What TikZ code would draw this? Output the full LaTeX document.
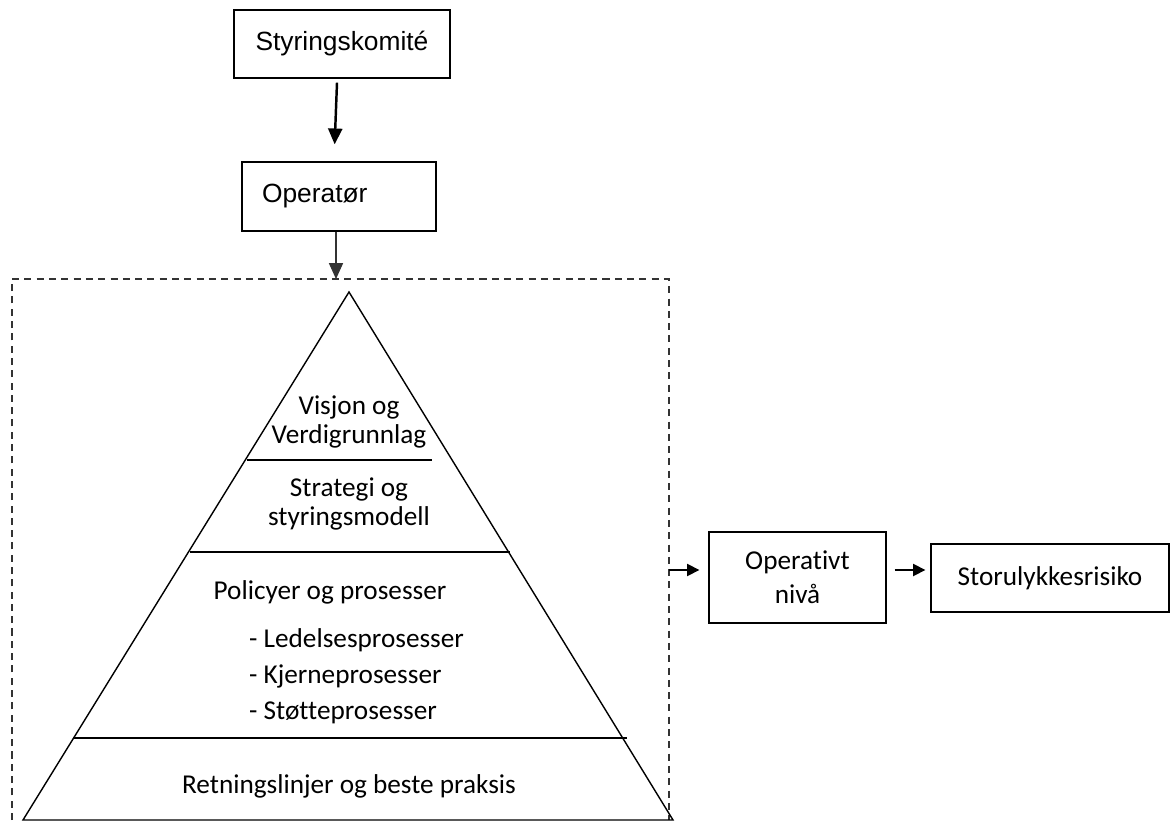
\documentclass[tikz,border=0pt]{standalone}
\usepackage{fontspec}
\setmainfont{Carlito}[Ligatures=NoCommon]
\newfontfamily\arialfont{Liberation Sans}
\usetikzlibrary{arrows.meta, positioning}

\begin{document}
\begin{tikzpicture}[x=0.02cm, y=-0.02cm,
  boks/.style={draw, line width=0.8pt, inner sep=0pt},
  pil/.style={-{Triangle[length=9pt, width=8pt]}, line width=1pt},
  litenpil/.style={-{Triangle[length=7pt, width=7pt]}, line width=0.9pt},
  pyrtekst/.style={font=\fontsize{15.5}{16.5}\selectfont, align=center}]
\useasboundingbox (0,0) rectangle (1171,821);

% Top-level boxes
\node[boks, minimum width=4.32cm, minimum height=1.36cm, font=\arialfont\fontsize{15}{18}\selectfont]
  (styring) at (342,44) {Styringskomité};
\node[boks, minimum width=3.88cm, minimum height=1.38cm, font=\arialfont\fontsize{15}{18}\selectfont,
  text width=3.08cm, inner xsep=0.4cm, align=left]
  (operator) at (339,196.5) {Operatør\\[9pt]};

% Dashed frame around the pyramid
\draw[black!80, line width=0.8pt, dash pattern=on 4pt off 3pt]
  (12,820) -- (12,279) -- (669,279) -- (669,820);
\coordinate (rammetopp) at (336,279);
\coordinate (rammehoyre) at (669,570);

\draw[pil, line width=1.4pt, shorten >=0.34cm]
  ([xshift=-0.1cm, yshift=-0.08cm]styring.south) -- ([xshift=-0.1cm]operator.north);
\draw[pil, line width=0.6pt, black!80] (operator.south -| rammetopp) -- (rammetopp);

% Pyramid
\draw[line width=0.8pt] (349,292) -- (23,820) -- (673,820) -- cycle;
\draw[line width=0.8pt] (247,460) -- (432,460);
\draw[line width=0.8pt] (190,552) -- (510,552);
\draw[line width=0.8pt] (73,738) -- (627,738);

\node[pyrtekst] (visjon) at (349,422) {Visjon og\\Verdigrunnlag};
\node[pyrtekst] (strategi) at (349,504) {Strategi og\\styringsmodell};
\node[pyrtekst] (policy) at (330,592) {Policyer og prosesser};
\node[pyrtekst, anchor=west, align=left, font=\fontsize{15.5}{20.5}\selectfont]
  (liste) at (243,676) {- Ledelsesprosesser\\- Kjerneprosesser\\- Støtteprosesser};
\node[pyrtekst] (retning) at (349,786) {Retningslinjer og beste praksis};

% Right-hand chain
\node[boks, minimum width=3.54cm, minimum height=1.82cm, align=center,
  font=\fontsize{15.5}{19.5}\selectfont] (operativt) at (797.5,577.5) {Operativt\\nivå};
\node[boks, minimum width=4.76cm, minimum height=1.36cm, font=\fontsize{15.5}{18}\selectfont]
  (storulykke) at (1050,578) {Storulykkesrisiko};

\draw[litenpil, shorten >=0.18cm] (rammehoyre) -- (operativt.west |- rammehoyre);
\draw[litenpil, shorten <=0.16cm, shorten >=0.1cm]
  (operativt.east |- rammehoyre) -- (storulykke.west |- rammehoyre);

\end{tikzpicture}
\end{document}
